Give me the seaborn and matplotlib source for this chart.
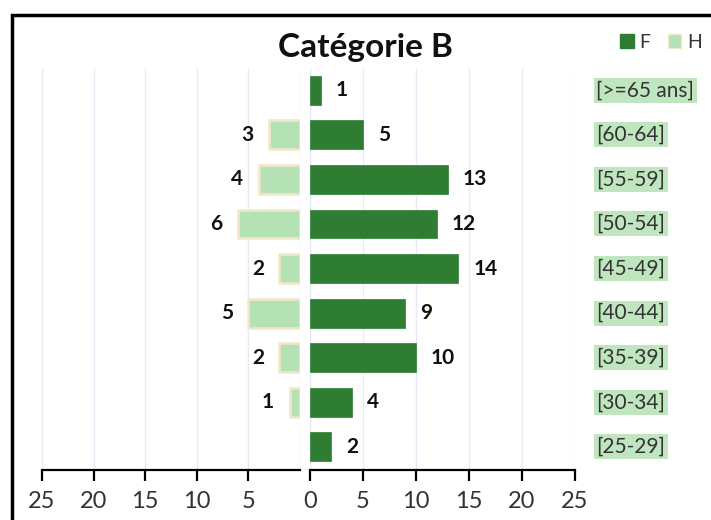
import matplotlib
matplotlib.use("Agg")
import matplotlib.pyplot as plt
import seaborn as sns
import pandas as pd
from matplotlib.patches import Rectangle, Patch

sns.set_theme(style="white")
plt.rcParams['font.family'] = ['Lato', 'DejaVu Sans']

categories = ["[>=65 ans]", "[60-64]", "[55-59]", "[50-54]", "[45-49]",
              "[40-44]", "[35-39]", "[30-34]", "[25-29]"]
femmes = [1, 5, 13, 12, 14, 9, 10, 4, 2]
hommes = [0, 3, 4, 6, 2, 5, 2, 1, 0]
ticks = [0, 5, 10, 15, 20, 25]
title = "Catégorie B"

dark = "#2e7d32"
light = "#b5e2b5"
edge_light = "#f3e6cc"
grid_c = "#e6ecf7"

df = pd.DataFrame({"cat": categories, "F": femmes, "H": hommes})

fig = plt.figure(figsize=(7.11, 5.2), dpi=100)
axL = fig.add_axes([42/711, 50/520, 258/711, 402/520])
axR = fig.add_axes([310/711, 50/520, 265/711, 402/520])

sns.barplot(data=df, x="H", y="cat", order=categories, ax=axL, color=light,
            edgecolor=edge_light, linewidth=1.8, width=0.65, saturation=1)
sns.barplot(data=df, x="F", y="cat", order=categories, ax=axR, color=dark,
            edgecolor=dark, linewidth=0.5, width=0.65, saturation=1)

for p in axL.patches:
    if p.get_width() == 0:
        p.set_visible(False)

n = len(categories)
for ax in (axL, axR):
    ax.set_ylim(n - 1 + 0.52, -0.5)
    ax.set_yticks([])
    ax.set_xlabel("")
    ax.set_ylabel("")
    for s in ("top", "left", "right"):
        ax.spines[s].set_visible(False)
    ax.spines["bottom"].set_color("black")
    ax.spines["bottom"].set_linewidth(1.6)
    ax.tick_params(axis="x", direction="out", length=8, width=1.6, color="black",
                   bottom=True, pad=7)
    for t in ticks:
        ax.axvline(t, color=grid_c, lw=1, zorder=0)
    ax.set_facecolor("none")

axR.set_xticks(ticks)
axR.set_xticklabels([str(t) for t in ticks], fontsize=17, color="#333333")
axL.set_xticks(ticks[1:])
axL.set_xticklabels([str(t) for t in ticks[1:]], fontsize=17, color="#333333")
axL.set_xlim(25, 0)
axR.set_xlim(0, 25)

for i, (f, h) in enumerate(zip(femmes, hommes)):
    axR.text(f + 1.4, i, str(f), ha="left", va="center", fontsize=15,
             fontweight="bold", color="#111111")
    if h > 0:
        axL.text(h + 1.5, i, str(h), ha="right", va="center", fontsize=15,
                 fontweight="bold", color="#111111")
    axR.text(27.0, i, categories[i], ha="left", va="center", fontsize=15,
             color="#333333", clip_on=False,
             bbox=dict(boxstyle="square,pad=0.12", facecolor="#bfe6bf", edgecolor="none"))

fig.text(365/711, 1 - 47/520, title, ha="center", va="center",
         fontsize=24, fontweight="bold", color="#111111")

handles = [Patch(facecolor=dark, edgecolor=dark), Patch(facecolor=light, edgecolor=edge_light)]
fig.legend(handles, ["F", "H"], ncol=2, loc="center", bbox_to_anchor=(661/711, 1 - 42/520),
           frameon=False, fontsize=14, handlelength=0.7, handleheight=0.7,
           handletextpad=0.3, columnspacing=0.9, labelcolor="#333333")

fig.patches.append(Rectangle((12/711, -0.1), 1.2, 1 - 15/520 + 0.1, transform=fig.transFigure,
                             fill=False, edgecolor="black", linewidth=2.5))

fig.savefig("out.png", dpi=100)
